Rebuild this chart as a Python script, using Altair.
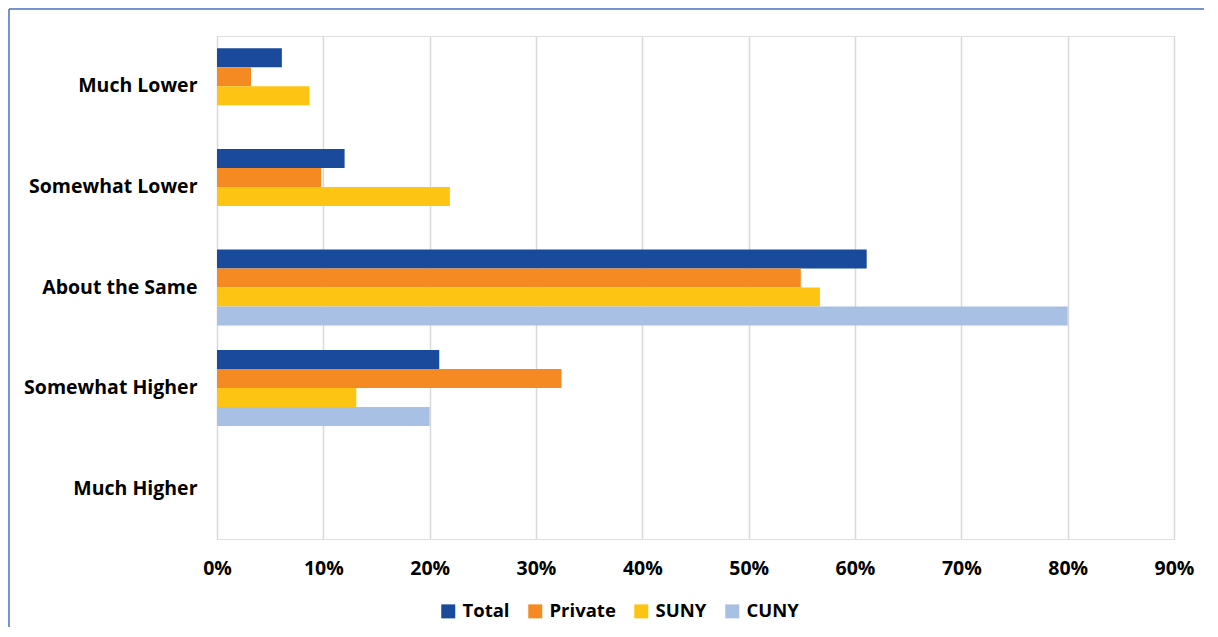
import altair as alt
import pandas as pd

categories = ["Much Lower", "Somewhat Lower", "About the Same", "Somewhat Higher", "Much Higher"]
series = ["Total", "Private", "SUNY", "CUNY"]
colors = ["#1A4A9C", "#F58A22", "#FDC414", "#A8C0E4"]

total = [0.061, 0.120, 0.611, 0.209, 0.0]
private = [0.032, 0.098, 0.549, 0.324, 0.0]
suny = [0.087, 0.219, 0.567, 0.131, 0.0]
cuny = [0.0, 0.0, 0.800, 0.200, 0.0]

tick_values = [0.0, 0.1, 0.2, 0.3, 0.4, 0.5, 0.6, 0.7, 0.8, 0.9]

rows = []
for name, vals in zip(series, [total, private, suny, cuny]):
    for c, v in zip(categories, vals):
        rows.append({"category": c, "series": name, "value": v})
df = pd.DataFrame(rows)

FONT = "Open Sans"
W, H = 957, 503

bars = alt.Chart(df).mark_bar(size=19).encode(
    y=alt.Y("category:N", sort=categories, title=None,
            scale=alt.Scale(paddingInner=0.245, paddingOuter=0.1225),
            axis=alt.Axis(labelFont=FONT, labelFontSize=19.5, labelFontWeight="bold",
                          labelColor="#000000", labelPadding=20, ticks=False,
                          domain=False, grid=False)),
    yOffset=alt.YOffset("series:N", sort=series, scale=alt.Scale(paddingInner=0, paddingOuter=0)),
    x=alt.X("value:Q", title=None,
            scale=alt.Scale(domain=[0, 0.9], nice=False, zero=True),
            axis=alt.Axis(values=tick_values, format=".0%", labelFont=FONT,
                          labelFontSize=19.5, labelFontWeight="bold", labelColor="#000000",
                          labelPadding=20, labelFlush=False, labelAlign="center",
                          ticks=False, domain=False, grid=True,
                          gridColor="#D9D9D9", gridWidth=1.5)),
    color=alt.Color("series:N", sort=series,
                    scale=alt.Scale(domain=series, range=colors),
                    legend=alt.Legend(title=None, orient="none", direction="horizontal",
                                      legendX=222, legendY=566,
                                      symbolType="square", symbolSize=196,
                                      symbolStrokeWidth=0, symbolOpacity=1,
                                      labelFont=FONT, labelFontSize=18.5,
                                      labelFontWeight="bold", labelColor="#000000",
                                      labelOffset=5, columnPadding=16)),
)

border_df = pd.DataFrame({"k": [1]})
top_border = alt.Chart(border_df).mark_rule(color="#4A6FC2", strokeWidth=1.5).encode(
    x=alt.value(-208), x2=alt.value(W + 40), y=alt.value(-27)
)
left_border = alt.Chart(border_df).mark_rule(color="#4A6FC2", strokeWidth=1.5).encode(
    x=alt.value(-208), y=alt.value(-27), y2=alt.value(H + 120)
)

chart = alt.layer(bars, top_border, left_border).properties(
    width=W, height=H,
    autosize=alt.AutoSizeParams(type="none"),
    padding={"left": 209, "top": 28, "right": 30, "bottom": 88},
).configure_view(stroke=None).configure(background="#FFFFFF")

chart.save("out.html", embed_options={"renderer": "svg", "actions": False})
